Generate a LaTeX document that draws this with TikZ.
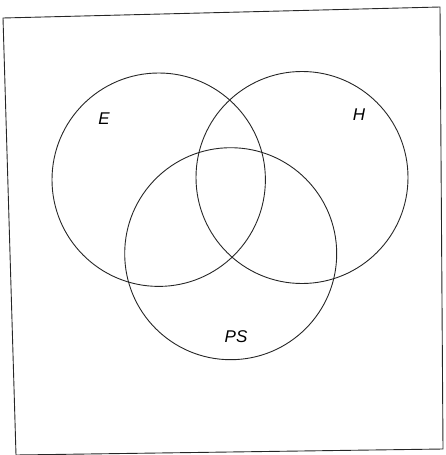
\documentclass[tikz,border=0pt]{standalone}
\usepackage{fontspec}
\setmainfont{Liberation Sans}
\begin{document}
\begin{tikzpicture}[x=1pt,y=-1pt,
  setcircle/.style={draw=black!85,line width=0.9pt},
  setlabel/.style={font=\fontsize{17}{19}\selectfont\itshape,inner sep=0pt}]
\useasboundingbox (0,0) rectangle (446,455);
\draw[black!85,line width=0.9pt] (3,18) -- (440,7) -- (443,449) -- (16,455) -- cycle;
\node[setcircle,circle,minimum size=213.4pt,inner sep=0pt] (E) at (158.7,179.7) {};
\node[setcircle,circle,minimum size=212pt,inner sep=0pt] (H) at (302,177.5) {};
\node[setcircle,circle,minimum size=212pt,inner sep=0pt] (PS) at (230.7,253.7) {};
\node[setlabel] (lE) at (104,119) {E};
\node[setlabel] (lH) at (359,115) {H};
\node[setlabel] (lPS) at (236,337) {PS};
\end{tikzpicture}
\end{document}
